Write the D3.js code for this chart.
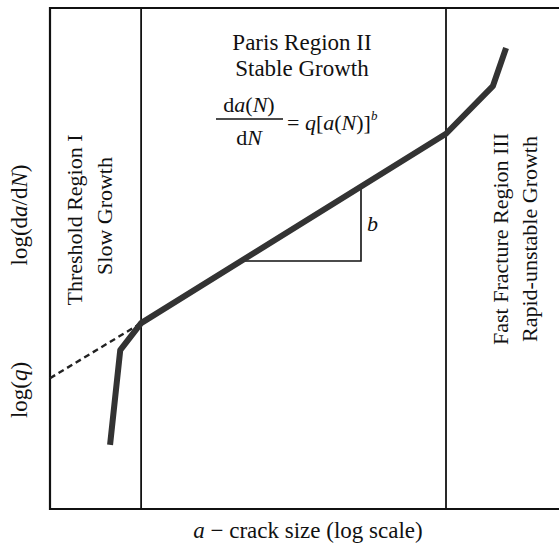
<!DOCTYPE html>
<html>
<head>
<meta charset="utf-8">
<script src="https://cdn.jsdelivr.net/npm/d3@7"></script>
<style>
  body { margin: 0; background: #fff; }
  svg text { font-family: "Liberation Serif", "Times New Roman", serif; fill: #111; }
</style>
</head>
<body>
<svg width="559" height="546"></svg>
<script>
// abstract log-log units, 0..10 on both axes
var curveX = [1.18, 1.38, 1.79, 7.78, 8.70, 8.96];
var curveY = [1.28, 3.17, 3.71, 7.49, 8.44, 9.20];
var dashX = [0, 1.79];
var dashY = [2.61, 3.71];
var regionBounds = [1.79, 7.78];
var triX = [3.73, 6.11, 6.11];
var triY = [4.95, 4.95, 6.43];

var svg = d3.select("svg");
var x = d3.scaleLinear().domain([0, 10]).range([50, 559]);
var y = d3.scaleLinear().domain([0, 10]).range([509, 8]);

var line = d3.line()
    .x(function(d) { return x(d[0]); })
    .y(function(d) { return y(d[1]); });

// frame (left, top, bottom)
svg.append("path")
    .attr("d", "M559," + y(10) + "H" + x(0) + "V" + y(0) + "H559")
    .attr("fill", "none")
    .attr("stroke", "#111")
    .attr("stroke-width", 2.2);

// region boundaries
svg.selectAll(".bound")
    .data(regionBounds)
    .enter().append("line")
    .attr("class", "bound")
    .attr("x1", function(d) { return x(d); })
    .attr("x2", function(d) { return x(d); })
    .attr("y1", y(10))
    .attr("y2", y(0))
    .attr("stroke", "#111")
    .attr("stroke-width", 1.8);

// slope triangle
svg.append("path")
    .datum(d3.zip(triX, triY))
    .attr("d", line)
    .attr("fill", "none")
    .attr("stroke", "#111")
    .attr("stroke-width", 1.6);

// extrapolated paris line
svg.append("path")
    .datum(d3.zip(dashX, dashY))
    .attr("d", line)
    .attr("fill", "none")
    .attr("stroke", "#222")
    .attr("stroke-width", 2.4)
    .attr("stroke-dasharray", "6,4");

// crack growth curve
svg.append("path")
    .datum(d3.zip(curveX, curveY))
    .attr("d", line)
    .attr("fill", "none")
    .attr("stroke", "#333")
    .attr("stroke-width", 6)
    .attr("stroke-linejoin", "round");

// labels
function rotText(tx, ty, size, parts) {
  var t = svg.append("text")
      .attr("transform", "translate(" + tx + "," + ty + ") rotate(-90)")
      .attr("text-anchor", "middle")
      .attr("font-size", size);
  parts.forEach(function(p) {
    t.append("tspan").attr("font-style", p[1] ? "italic" : null).text(p[0]);
  });
  return t;
}

rotText(27, 215, 23, [["log(d", 0], ["a", 1], ["/d", 0], ["N", 1], [")", 0]]);
rotText(27, 390, 23, [["log(", 0], ["q", 1], [")", 0]]);
rotText(82, 220, 22, [["Threshold Region I", 0]]);
rotText(112, 216, 22, [["Slow Growth", 0]]);
rotText(508, 239, 22, [["Fast Fracture Region III", 0]]);
rotText(537, 239, 22, [["Rapid-unstable Growth", 0]]);

svg.append("text").attr("x", 302).attr("y", 50).attr("text-anchor", "middle")
    .attr("font-size", 23).text("Paris Region II");
svg.append("text").attr("x", 302).attr("y", 76).attr("text-anchor", "middle")
    .attr("font-size", 23).text("Stable Growth");

// formula
var num = svg.append("text").attr("x", 249).attr("y", 112).attr("text-anchor", "middle").attr("font-size", 22);
num.append("tspan").text("d");
num.append("tspan").attr("font-style", "italic").text("a");
num.append("tspan").text("(");
num.append("tspan").attr("font-style", "italic").text("N");
num.append("tspan").text(")");
svg.append("line").attr("x1", 216).attr("x2", 283).attr("y1", 119).attr("y2", 119)
    .attr("stroke", "#111").attr("stroke-width", 1.5);
var den = svg.append("text").attr("x", 249).attr("y", 145).attr("text-anchor", "middle").attr("font-size", 22);
den.append("tspan").text("d");
den.append("tspan").attr("font-style", "italic").text("N");
var rhs = svg.append("text").attr("x", 287).attr("y", 130).attr("font-size", 22);
rhs.append("tspan").text("= ");
rhs.append("tspan").attr("font-style", "italic").text("q");
rhs.append("tspan").text("[");
rhs.append("tspan").attr("font-style", "italic").text("a");
rhs.append("tspan").text("(");
rhs.append("tspan").attr("font-style", "italic").text("N");
rhs.append("tspan").text(")]");
rhs.append("tspan").attr("font-style", "italic").attr("font-size", 13).attr("dy", -10).text("b");

svg.append("text").attr("x", 367).attr("y", 231).attr("font-size", 22)
    .attr("font-style", "italic").text("b");

var xl = svg.append("text").attr("x", 308).attr("y", 538).attr("text-anchor", "middle").attr("font-size", 23);
xl.append("tspan").attr("font-style", "italic").text("a");
xl.append("tspan").text(" \u2212 crack size (log scale)");
</script>
</body>
</html>
